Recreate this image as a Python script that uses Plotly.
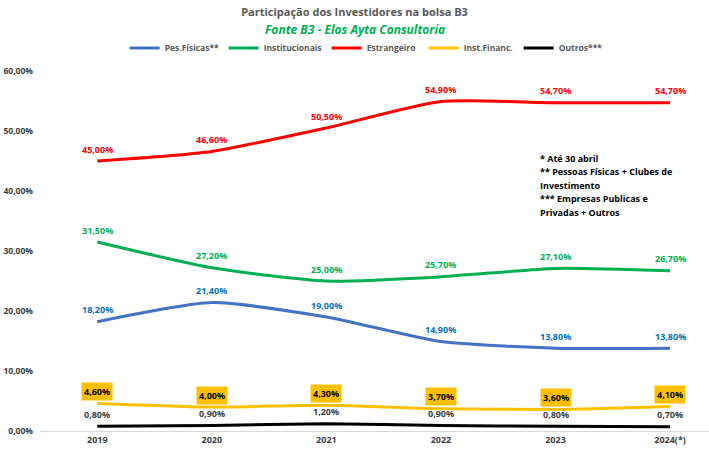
import plotly.graph_objects as go

years = ["2019", "2020", "2021", "2022", "2023", "2024(*)"]
pes_fisicas = [18.2, 21.4, 19.0, 14.9, 13.8, 13.8]
institucionais = [31.5, 27.2, 25.0, 25.7, 27.1, 26.7]
estrangeiro = [45.0, 46.6, 50.5, 54.9, 54.7, 54.7]
inst_financ = [4.6, 4.0, 4.3, 3.7, 3.6, 4.1]
outros = [0.8, 0.9, 1.2, 0.9, 0.8, 0.7]
y_ticks = [0, 10, 20, 30, 40, 50, 60]
note_lines = ["* Até 30 abril", "** Pessoas Físicas + Clubes de", "Investimento",
              "*** Empresas Publicas e", "Privadas + Outros"]

# name, values, line colour, label colour, label background, legend entry width
series = [
    ("Pes.Físicas**", pes_fisicas, "#4472C4", "#0070C0", None, 54),
    ("Institucionais", institucionais, "#00B050", "#00B050", None, 58),
    ("Estrangeiro", estrangeiro, "#FF0000", "#FF0000", None, 52),
    ("Inst.Financ.", inst_financ, "#FFC000", "#000000", "#FFC000", 50),
    ("Outros***", outros, "#000000", "#404040", None, 46),
]

def fmt(v):
    return f"{v:.2f}".replace(".", ",") + "%"

FONT = "Open Sans"
fig = go.Figure()
annotations = []
xs = list(range(len(years)))
for name, vals, color, tcolor, bg, lw in series:
    fig.add_trace(go.Scatter(
        x=xs, y=vals, name=f"<b>{name}</b>", mode="lines",
        line=dict(color=color, width=3, shape="spline", smoothing=0.6),
        hoverinfo="skip", legendwidth=lw,
    ))
    for xi, v in zip(xs, vals):
        a = dict(x=xi, y=v, xref="x", yref="y", text=f"<b>{fmt(v)}</b>",
                 showarrow=False, yshift=12,
                 font=dict(family=FONT, size=9, color=tcolor))
        if bg:
            a.update(bgcolor=bg, borderpad=2)
        annotations.append(a)

annotations.append(dict(
    xref="paper", yref="paper", x=0.471, y=1.1139,
    text="<b><i>Fonte B3 - Elos Ayta Consultoria</i></b>", showarrow=False,
    font=dict(family=FONT, size=12, color="#00B050"), yanchor="middle"))
for i, line in enumerate(note_lines):
    annotations.append(dict(
        xref="paper", yref="paper", x=0.744, y=(431 - 158) / 360,
        xanchor="left", yanchor="middle", yshift=-13.5 * i,
        align="left", showarrow=False, text=f"<b>{line}</b>",
        font=dict(family=FONT, size=9, color="#000000")))

fig.update_layout(
    width=709, height=455,
    margin=dict(l=40, r=0, t=71, b=24, autoexpand=False),
    paper_bgcolor="white", plot_bgcolor="white",
    title=dict(text="<b>Participação dos Investidores na bolsa B3</b>",
               x=0.5, xanchor="center", y=1 - 12 / 455, yanchor="middle",
               yref="container",
               font=dict(family=FONT, size=11, color="#595959")),
    legend=dict(orientation="h", x=0.489, xanchor="center", y=1.064, yanchor="middle",
                font=dict(family=FONT, size=8.5, color="#595959"),
                itemwidth=30, entrywidthmode="pixels",
                tracegroupgap=0, bgcolor="rgba(0,0,0,0)"),
    annotations=annotations,
    showlegend=True,
)
fig.update_xaxes(
    tickmode="array", tickvals=xs, ticktext=[f"<b>{y}</b>" for y in years],
    range=[-0.5, 5.34], showgrid=False, zeroline=False,
    showline=True, linecolor="#D9D9D9", linewidth=1,
    tickfont=dict(family=FONT, size=9, color="#404040"), ticks="",
    automargin=False,
)
fig.update_yaxes(
    range=[0, 60], tickmode="array", tickvals=y_ticks,
    ticktext=[f"<b>{fmt(t)}</b>" for t in y_ticks],
    showgrid=False, zeroline=False, showline=False,
    tickfont=dict(family=FONT, size=8.5, color="#404040"), ticks="",
    ticklabelstandoff=6, automargin=False,
)
fig.write_html("out.html", config={"displayModeBar": False},
               post_script="document.body.style.margin='0';")
